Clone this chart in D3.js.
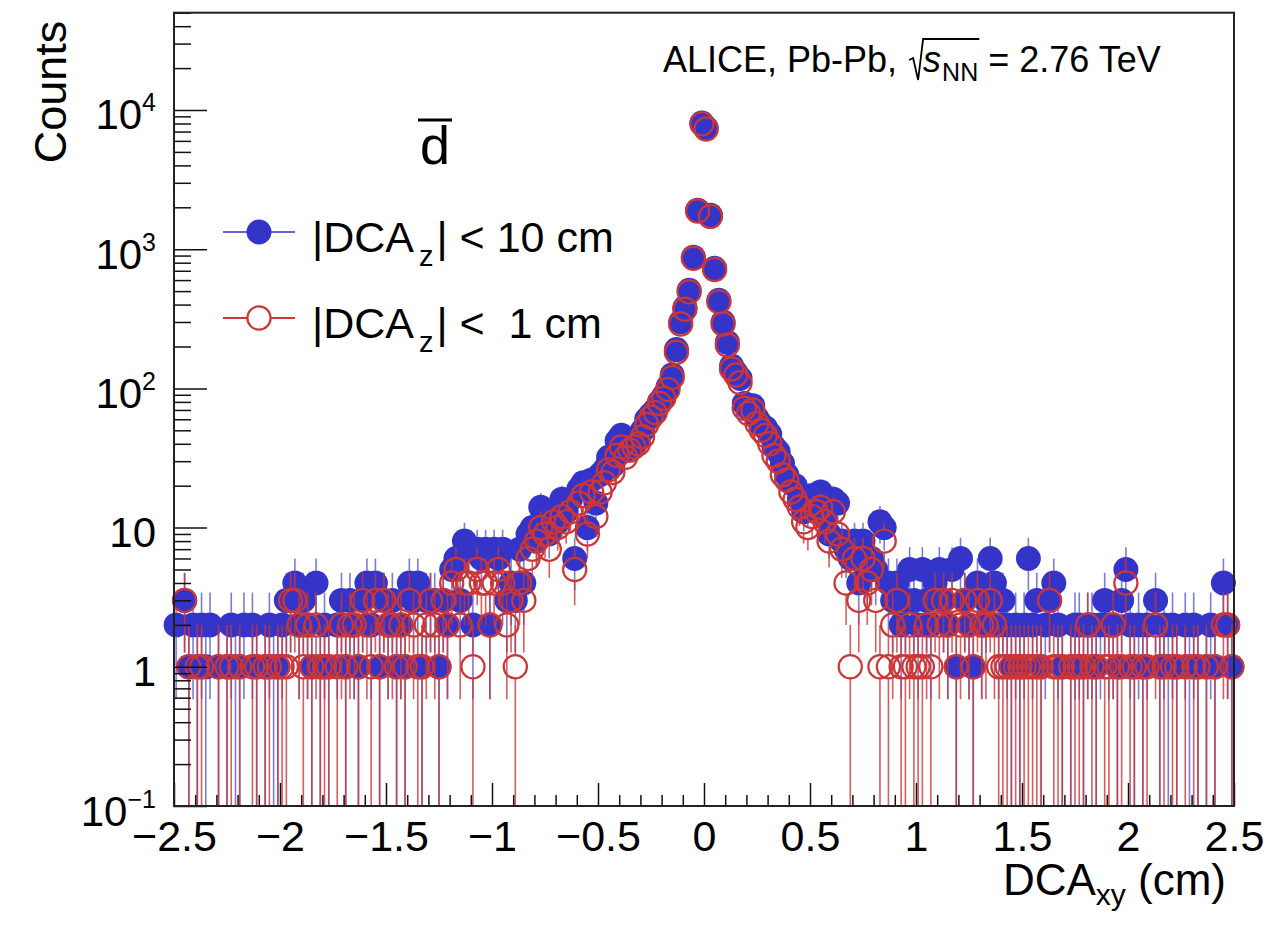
<!DOCTYPE html>
<html>
<head>
<meta charset="utf-8">
<script src="https://cdn.jsdelivr.net/npm/d3@7"></script>
<style>
  body { margin: 0; background: #fff; }
  svg { display: block; font-family: "Liberation Sans", Arial, Helvetica, sans-serif; }
  text { white-space: pre; }
</style>
</head>
<body>
<svg id="chart" width="1275" height="927"></svg>
<script>
// Histogram binning of DCA_xy: 250 bins of 0.02 cm between -2.5 and 2.5 cm
const xDomain = [-2.5, 2.5];
const yDomain = [0.1, 50000];
const binWidth = 0.02;

// Anti-deuteron candidates per bin, |DCA_z| < 10 cm
const countsAll = [
  2,0,3,1,2,1,2,1,2,0,
  1,0,1,2,1,1,2,0,2,1,
  0,1,2,1,1,2,3,3,4,2,
  3,2,1,4,1,2,1,0,2,3,
  1,3,2,1,3,4,2,4,1,3,
  2,3,1,2,1,4,3,4,1,3,
  3,3,1,3,2,5,6,3,8,7,
  2,7,6,7,2,7,6,7,3,4,
  3,7,4,9,10,8,14,12,9,13,
  11,16,13,16,6,19,21,10,22,15,
  24,26,32,28,42,46,36,40,40,43,
  50,60,65,70,80,88,102,125,190,300,
  380,507,876,1908,8060,
  7430,1757,730,430,300,
  214,145,130,118,78,72,75,61,55,52,
  47,38,35,29,24,21,20,16,13,14,
  17,16,18,12,9,16,15,8,7,6,
  8,4,8,5,6,5,11,10,4,3,
  4,2,3,5,3,2,5,3,2,4,
  5,3,2,5,1,6,3,2,1,4,
  2,3,6,4,2,3,2,1,2,1,
  2,6,2,3,1,2,3,4,2,1,
  0,1,2,2,1,2,2,1,2,3,
  2,2,1,3,5,2,1,2,1,2,
  0,3,1,2,1,2,1,0,2,1,
  2,1,0,1,2,1,0,4,2,1
];

// Anti-deuteron candidates per bin, |DCA_z| < 1 cm
const countsNarrow = [
  0,0,3,1,0,1,1,0,0,0,
  1,0,1,1,0,1,0,0,1,1,
  0,1,1,0,1,1,1,3,3,2,
  1,2,1,2,1,1,1,0,1,2,
  1,2,2,1,3,2,1,3,1,3,
  2,2,1,2,1,3,2,1,1,2,
  3,2,1,3,2,4,5,2,4,4,
  1,5,4,4,2,4,5,4,2,3,
  1,4,3,6,7,8,10,9,7,11,
  10,12,11,13,5,15,17,9,18,12,
  18,21,26,25,33,38,32,36,38,40,
  45,55,62,67,78,85,98,120,182,290,
  370,495,860,1880,7950,
  7300,1720,715,420,290,
  205,138,125,110,72,66,70,56,50,46,
  40,33,30,24,22,18,16,14,11,10,
  12,13,14,11,8,13,9,7,4,1,
  6,3,6,4,5,3,1,8,1,2,
  3,1,1,2,1,1,1,2,1,3,
  2,3,2,3,1,2,3,2,1,3,
  2,2,3,2,1,1,1,1,1,1,
  1,1,1,1,1,0,3,1,1,1,
  0,1,1,1,1,2,1,1,0,1,
  1,2,1,1,4,1,1,0,1,1,
  0,2,1,1,0,1,1,0,1,0,
  1,1,0,1,0,1,0,2,2,1
];

const xTickValues = [-2.5, -2, -1.5, -1, -0.5, 0, 0.5, 1, 1.5, 2, 2.5];
const xTickLabels = ["\u22122.5", "\u22122", "\u22121.5", "\u22121", "\u22120.5", "0", "0.5", "1", "1.5", "2", "2.5"];
const yTickValues = [0.1, 1, 10, 100, 1000, 10000];
const yTickBases = ["10", "1", "10", "10", "10", "10"];
const yTickExponents = ["\u22121", "", "", "2", "3", "4"];

const seriesLabels = [
  { pre: "|DCA", sub: "z", post: "| < 10 cm" },
  { pre: "|DCA", sub: "z", post: "| <  1 cm" }
];

const blue = "#3434c8";
const red = "#cc3636";

const svg = d3.select("#chart");
const plot = { left: 174, right: 1234, top: 12.7, bottom: 806 };

const x = d3.scaleLinear().domain(xDomain).range([plot.left, plot.right]);
const y = d3.scaleLog().domain(yDomain).range([plot.bottom, plot.top]);

function binPoints(counts) {
  return counts.map((n, i) => ({ x: xDomain[0] + binWidth * (i + 0.5), n }))
               .filter(d => d.n > 0);
}

function drawSeries(points, opts) {
  const g = svg.append("g");
  const r = opts.r;
  const bars = g.append("g")
    .attr("stroke", opts.barColor)
    .attr("stroke-width", 1.6)
    .attr("stroke-opacity", opts.barOpacity);
  points.forEach(d => {
    const cx = x(d.x), cy = y(d.n);
    const err = Math.sqrt(d.n);
    const yHi = y(d.n + err);
    const lo = d.n - err;
    const yLo = lo <= yDomain[0] ? plot.bottom : y(lo);
    if (yHi < cy - r) {
      bars.append("line").attr("x1", cx).attr("x2", cx).attr("y1", yHi).attr("y2", cy - r);
    }
    if (yLo > cy + r) {
      bars.append("line").attr("x1", cx).attr("x2", cx).attr("y1", cy + r).attr("y2", yLo);
    }
  });
  g.append("g").selectAll("circle").data(points).join("circle")
    .attr("cx", d => x(d.x))
    .attr("cy", d => y(d.n))
    .attr("r", r)
    .attr("fill", opts.fill)
    .attr("stroke", opts.stroke)
    .attr("stroke-width", opts.strokeWidth);
}

drawSeries(binPoints(countsAll), {
  r: 12.5, fill: blue, stroke: "none", strokeWidth: 0,
  barColor: blue, barOpacity: 0.65
});
drawSeries(binPoints(countsNarrow), {
  r: 11.6, fill: "none", stroke: red, strokeWidth: 2.2,
  barColor: red, barOpacity: 0.8
});

// ---- axes (ticks point into the frame) ----
const axisColor = "#111";

const xMinor = d3.range(-25, 26).filter(i => i % 5 !== 0).map(i => i / 10);
const gxMinor = svg.append("g").attr("transform", `translate(0,${plot.bottom})`)
  .call(d3.axisBottom(x).tickValues(xMinor).tickSizeInner(-11).tickSizeOuter(0).tickFormat(""));
const gx = svg.append("g").attr("transform", `translate(0,${plot.bottom})`)
  .call(d3.axisBottom(x).tickValues(xTickValues).tickSizeInner(-23).tickSizeOuter(0)
        .tickFormat((d, i) => xTickLabels[i]));
gx.selectAll("text")
  .attr("y", 45).attr("dy", 0)
  .attr("font-size", 43).attr("fill", "#000")
  .attr("font-family", "'Liberation Sans', Arial, sans-serif");

const yMinor = y.ticks().filter(v => {
  const l = Math.log10(v);
  return Math.abs(l - Math.round(l)) > 1e-6;
});
const gyMinor = svg.append("g").attr("transform", `translate(${plot.left},0)`)
  .call(d3.axisLeft(y).tickValues(yMinor).tickSizeInner(-17).tickSizeOuter(0).tickFormat(""));
const gy = svg.append("g").attr("transform", `translate(${plot.left},0)`)
  .call(d3.axisLeft(y).tickValues(yTickValues).tickSizeInner(-33).tickSizeOuter(0).tickFormat(""));
gy.selectAll(".tick").each(function (d, i) {
  const t = d3.select(this).select("text")
    .attr("x", -18).attr("dy", 0).attr("y", 19)
    .attr("font-size", 42).attr("fill", "#000")
    .attr("font-family", "'Liberation Sans', Arial, sans-serif")
    .attr("text-anchor", "end");
  t.text(null);
  t.append("tspan").text(yTickBases[i]);
  if (yTickExponents[i]) {
    t.append("tspan").attr("font-size", 25).attr("dy", -18).text(yTickExponents[i]);
  }
});

[gx, gxMinor, gy, gyMinor].forEach(g => {
  g.select(".domain").remove();
  g.selectAll(".tick line").attr("stroke", axisColor).attr("stroke-width", 1.5);
});

// frame
svg.append("rect")
  .attr("x", plot.left).attr("y", plot.top)
  .attr("width", plot.right - plot.left).attr("height", plot.bottom - plot.top)
  .attr("fill", "none").attr("stroke", "#222").attr("stroke-width", 2);

// ---- axis titles ----
svg.append("text")
  .attr("transform", `translate(66,${plot.top + 8}) rotate(-90)`)
  .attr("text-anchor", "end")
  .attr("font-size", 45)
  .text("Counts");

const xt = svg.append("text")
  .attr("x", 1226).attr("y", 895)
  .attr("text-anchor", "end")
  .attr("font-size", 44);
xt.append("tspan").text("DCA");
xt.append("tspan").attr("font-size", 30).attr("dy", 10).text("xy");
xt.append("tspan").attr("dy", -10).text(" (cm)");

// ---- particle label: anti-deuteron ----
svg.append("text")
  .attr("x", 435).attr("y", 164)
  .attr("text-anchor", "middle")
  .attr("font-size", 54)
  .text("d");
svg.append("line")
  .attr("x1", 418).attr("x2", 452).attr("y1", 120).attr("y2", 120)
  .attr("stroke", "#000").attr("stroke-width", 3);

// ---- collision system annotation ----
(function () {
  const fs = 36, baseY = 72;
  let cx = 663;
  const t1 = svg.append("text").attr("x", cx).attr("y", baseY).attr("font-size", fs)
    .text("ALICE, Pb-Pb, ");
  cx += t1.node().getComputedTextLength();
  const radX = cx + 2;
  cx += 16;
  const t2 = svg.append("text").attr("x", cx).attr("y", baseY).attr("font-size", fs)
    .attr("font-style", "italic").text("s");
  cx += t2.node().getComputedTextLength() + 1;
  const t3 = svg.append("text").attr("x", cx).attr("y", baseY + 9).attr("font-size", 25)
    .text("NN");
  cx += t3.node().getComputedTextLength();
  const overEnd = cx + 1;
  svg.append("text").attr("x", cx).attr("y", baseY).attr("font-size", fs)
    .text(" = 2.76 TeV");
  svg.append("path")
    .attr("d", `M${radX},${baseY - 12} L${radX + 4},${baseY - 14} L${radX + 9},${baseY + 8} L${radX + 14},${baseY - 33} L${overEnd},${baseY - 33}`)
    .attr("fill", "none").attr("stroke", "#000").attr("stroke-width", 1.8);
})();

// ---- legend ----
const legendRows = [
  { cy: 232, label: seriesLabels[0], line: "#6262e0", marker: "fill" },
  { cy: 318, label: seriesLabels[1], line: red, marker: "open" }
];
legendRows.forEach(row => {
  svg.append("line")
    .attr("x1", 223).attr("x2", 295).attr("y1", row.cy).attr("y2", row.cy)
    .attr("stroke", row.line).attr("stroke-width", 2);
  if (row.marker === "fill") {
    svg.append("circle").attr("cx", 259).attr("cy", row.cy).attr("r", 12.5).attr("fill", blue);
  } else {
    svg.append("circle").attr("cx", 259).attr("cy", row.cy).attr("r", 11.6)
      .attr("fill", "#fff").attr("stroke", red).attr("stroke-width", 2.2);
  }
  const t = svg.append("text").attr("x", 312).attr("y", row.cy + 20).attr("font-size", 43);
  t.append("tspan").text(row.label.pre);
  t.append("tspan").attr("font-size", 29).attr("dy", 14).attr("dx", 5).text(row.label.sub);
  t.append("tspan").attr("dy", -14).attr("dx", 3).text(row.label.post);
});
</script>
</body>
</html>
